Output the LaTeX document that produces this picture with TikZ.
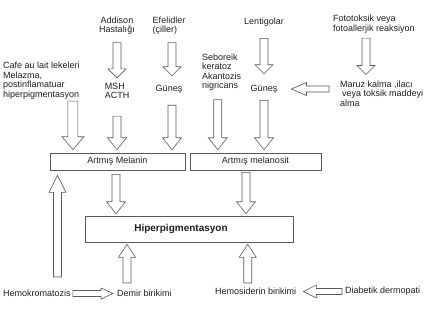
\documentclass[tikz,border=0pt]{standalone}
\usepackage{fontspec}
\setmainfont{Liberation Sans}
\usepackage{tikz}
\usetikzlibrary{calc}
\definecolor{linegray}{HTML}{5A5A5A}
\definecolor{textgray}{HTML}{1E1E1E}
% block arrow sizes
\tikzset{bshaft/.store in=\arrshaft, bhead/.store in=\arrhead, blen/.store in=\arrlen}

\begin{document}
\begin{tikzpicture}[x=1pt, y=-1pt,
  lbl/.style={inner sep=0pt, text=textgray, font=\fontsize{9}{9.5}\selectfont},
  box/.style={draw=linegray, line width=0.6pt, inner sep=0pt, text=textgray, font=\fontsize{9}{9.5}\selectfont},
  blk/.style={draw=linegray, fill=white, line width=0.6pt,
    to path={let \p1=(\tikztostart), \p2=(\tikztotarget),
      \n1={atan2(\y2-\y1,\x2-\x1)}, \n2={veclen(\x2-\x1,\y2-\y1)} in
      ([shift={(\p1)}, rotate=\n1] 0pt,\arrshaft)
      -- ([shift={(\p1)}, rotate=\n1] \n2-\arrlen,\arrshaft)
      -- ([shift={(\p1)}, rotate=\n1] \n2-\arrlen,\arrhead)
      -- (\p2)
      -- ([shift={(\p1)}, rotate=\n1] \n2-\arrlen,-\arrhead)
      -- ([shift={(\p1)}, rotate=\n1] \n2-\arrlen,-\arrshaft)
      -- ([shift={(\p1)}, rotate=\n1] 0pt,-\arrshaft) -- cycle}},
  varr/.style={blk, bshaft=4pt, bhead=9.5pt, blen=12pt},
  sarr/.style={blk, bshaft=4pt, bhead=9pt, blen=9pt},
  harr/.style={blk, bshaft=3pt, bhead=6.5pt, blen=13pt}]
  \useasboundingbox (0,0) rectangle (425,321);
  % Top causes
  \node[lbl, align=center] (addison) at (117,25.5) {Addison\\Hastalığı};
  \node[lbl, align=left] (efel) at (169,25.5) {Efelidler\\(çiller)};
  \node[lbl] (lent) at (264,22) {Lentigolar};
  \node[lbl, align=left, anchor=west] (foto) at (333,24) {Fototoksik veya\\fotoallerjik reaksiyon};
  % Second row
  \node[lbl, align=left, anchor=west] (cafe) at (3,80.5) {Cafe au lait lekeleri\\Melazma,\\postinflamatuar\\hiperpigmentasyon};
  \node[lbl, align=left] (msh) at (117,91) {MSH\\ACTH};
  \node[lbl] (gunesa) at (169,89) {Güneş};
  \node[lbl, align=left, anchor=west] (sebor) at (202,72) {Seboreik\\keratoz\\Akantozis\\nigricans};
  \node[lbl] (gunesb) at (264,89) {Güneş};
  \node[lbl, align=left, anchor=west] (maruz) at (340,93.5) {Maruz kalma ,ilacı\\\hspace{2pt}veya toksik maddeyi\\alma};
  % Boxes
  \node[box, minimum width=135pt, minimum height=17pt] (mel) at (117.5,161.5) {Artmış Melanin};
  \node[box, minimum width=131pt, minimum height=17pt] (melsit) at (255.5,161.5) {Artmış melanosit};
  \node[box, minimum width=208pt, minimum height=26pt, font=\fontsize{10}{11}\selectfont\bfseries] (hiper) at (189,229) {Hiperpigmentasyon\hspace*{16pt}};
  % Bottom causes
  \node[lbl, anchor=west] (hemo) at (3,293.5) {Hemokromatozis};
  \node[lbl, anchor=west] (demir) at (117,293.5) {Demir birikimi};
  \node[lbl, anchor=west] (hemos) at (215,291.5) {Hemosiderin birikimi};
  \node[lbl, anchor=west] (diab) at (345,291.5) {Diabetik dermopati};
  % Arrows, top part
  \draw[sarr] ([yshift=-8pt]addison.south) to ([yshift=5pt]msh.north);
  \draw[sarr] ([xshift=3pt,yshift=-8pt]efel.south) to ([xshift=3pt,yshift=9pt]gunesa.north);
  \draw[sarr] ([yshift=-12pt]lent.south) to ([yshift=11pt]gunesb.north);
  \draw[sarr] ([xshift=-8pt,yshift=-5pt]foto.south) to ([xshift=-8pt,yshift=6pt]foto.south |- maruz.north);
  \draw[harr, blen=15pt] ([xshift=-11pt]maruz.west |- gunesb.east) to ([xshift=14pt]gunesb.east);
  % Arrows into the boxes
  \draw[varr, bshaft=5pt, bhead=11pt, blen=13pt] ([xshift=-7pt,yshift=-2pt]cafe.south east) to ([xshift=-7pt,yshift=3pt]cafe.south east |- mel.north);
  \draw[varr] ([yshift=-17pt]msh.south) to ([yshift=3pt]msh.south |- mel.north);
  \draw[varr] ([xshift=3pt,yshift=-12pt]gunesa.south) to ([xshift=3pt,yshift=3pt]gunesa.south |- mel.north);
  \draw[varr] ([xshift=-4pt,yshift=-9pt]sebor.south) to ([xshift=-4pt,yshift=3pt]sebor.south |- melsit.north);
  \draw[varr] ([yshift=-7pt]gunesb.south) to ([yshift=3pt]gunesb.south |- melsit.north);
  \draw[varr] ([xshift=-1.5pt,yshift=-4pt]mel.south) to ([xshift=-1.5pt,yshift=2pt]mel.south |- hiper.north);
  \draw[varr] ([xshift=-9.5pt,yshift=-2pt]melsit.south) to ([xshift=-9.5pt,yshift=2pt]melsit.south |- hiper.north);
  % Arrows, bottom part
  \draw[varr, bhead=8.5pt, blen=17pt] ([xshift=20.5pt,yshift=13pt]hemo.north) to ([xshift=20.5pt,yshift=-5pt]hemo.north |- mel.south);
  \draw[varr, bhead=8.5pt, blen=13pt] ([xshift=-17.5pt,yshift=7pt]demir.north) to ([xshift=-17.5pt,yshift=-2pt]demir.north |- hiper.south);
  \draw[varr, bhead=8.5pt, blen=13pt] ([xshift=-8pt,yshift=5pt]hemos.north) to ([xshift=-8pt,yshift=-2pt]hemos.north |- hiper.south);
  \draw[harr, blen=12pt, bhead=5.5pt] ([xshift=2pt]hemo.east) to ([xshift=-4pt]demir.west);
  \draw[harr] ([xshift=-3pt]diab.west) to ([xshift=7pt]hemos.east);
\end{tikzpicture}
\end{document}
